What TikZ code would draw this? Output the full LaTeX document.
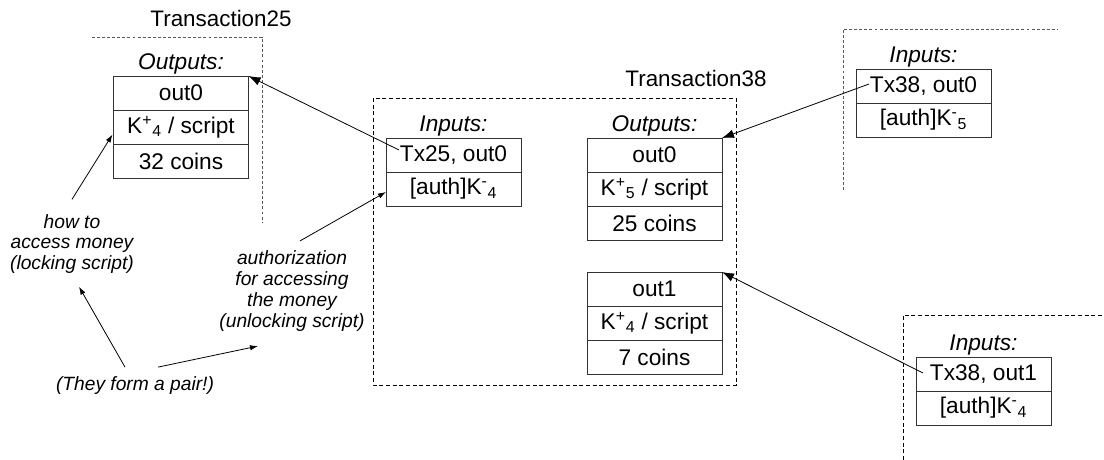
\documentclass[tikz,border=0pt]{standalone}
\usepackage{fontspec}
\setmainfont{Liberation Sans}
\usetikzlibrary{arrows.meta,positioning,calc}

\begin{document}
\begin{tikzpicture}[x=0.75pt,y=-0.75pt,
    cell/.style={draw=black!80,line width=0.6pt,minimum width=101.25pt,minimum height=25.5pt,
      inner sep=0pt,outer sep=0pt,font=\fontsize{17}{20}\selectfont},
    lbl/.style={inner sep=0pt,font=\fontsize{17}{20}\selectfont\itshape},
    txname/.style={inner sep=0pt,font=\fontsize{16.8}{20}\selectfont},
    note/.style={align=center,inner sep=2pt,font=\fontsize{14.4}{15.6}\selectfont\itshape},
    dotframe/.style={gray!70!black,line width=0.7pt,dash pattern=on 2.2pt off 1.6pt},
    dashframe/.style={black,line width=0.6pt,dash pattern=on 3pt off 2pt},
    link/.style={black,line width=0.6pt,-{Latex[length=9pt,width=6.5pt]}},
    hint/.style={black,line width=0.6pt,-{Latex[length=6pt,width=4pt]}}]
    \useasboundingbox (0,0) rectangle (1104,460);

    % Transaction25
    \draw[dotframe] (92,37) -- (262,37) -- (262,222);
    \node[txname] (tx25) at (221,18) {Transaction25};
    \node[cell] (t25a) at (181,93) {out0};
    \node[cell,below=0pt of t25a] (t25b) {K\textsuperscript{+}\textsubscript{4} / script};
    \node[cell,below=0pt of t25b] (t25c) {32 coins};
    \node[lbl,above=1.5pt of t25a] (t25out) {Outputs:};

    % Transaction38
    \draw[dashframe] (373,98) rectangle (736,385);
    \node[txname] (tx38) at (696,78) {Transaction38};
    \node[cell] (ina) at (453.5,155) {Tx25, out0};
    \node[cell,below=0pt of ina] (inab) {[auth]K\textsuperscript{-}\textsubscript{4}};
    \node[lbl,above=1.5pt of ina] (t38in) {Inputs:};
    \node[cell] (o0a) at (654.5,155) {out0};
    \node[cell,below=0pt of o0a] (o0b) {K\textsuperscript{+}\textsubscript{5} / script};
    \node[cell,below=0pt of o0b] (o0c) {25 coins};
    \node[lbl,above=1.5pt of o0a] (t38out) {Outputs:};
    \node[cell] (o1a) at (654.5,289) {out1};
    \node[cell,below=0pt of o1a] (o1b) {K\textsuperscript{+}\textsubscript{4} / script};
    \node[cell,below=0pt of o1b] (o1c) {7 coins};

    % spending transactions
    \draw[dotframe] (843,190) -- (843,29) -- (1057,29);
    \node[cell] (inb) at (923.5,86) {Tx38, out0};
    \node[cell,below=0pt of inb] (inbb) {[auth]K\textsuperscript{-}\textsubscript{5}};
    \node[lbl,above=1.5pt of inb] (s1in) {Inputs:};
    \draw[dashframe] (903,460) -- (903,315) -- (1104,315);
    \node[cell] (inc) at (983.5,374) {Tx38, out1};
    \node[cell,below=0pt of inc] (incb) {[auth]K\textsuperscript{-}\textsubscript{4}};
    \node[lbl,above=1.5pt of inc] (s2in) {Inputs:};

    % notes
    \node[note] (howto) at (72,244) {how to\\access money\\(locking script)};
    \node[note] (auth) at (292,291) {authorization\\for accessing\\the money\\(unlocking script)};
    \node[note] (pair) at (135,386) {(They form a pair!)};

    % references to spent outputs
    \draw[link] ($(ina.west)+(13,-5)$) -- (t25a.north east);
    \draw[link] ($(inb.west)+(13,-2)$) -- (o0a.north east);
    \draw[link] ($(inc.west)+(7,-1)$) -- (o1a.north east);

    \draw[hint] ($(howto.north)+(0,-12)$) -- ($(t25b.west)+(-1,7.5)$);
    \draw[hint] ($(auth.north)+(8,-7)$) -- ($(inab.west)+(0,3)$);
    \draw[hint] ($(pair.north)+(-10,-7)$) -- ($(howto.south)+(7,10)$);
    \draw[hint] ($(pair.north)+(23,-7)$) -- ($(auth.south)+(-34,12)$);
\end{tikzpicture}
\end{document}
